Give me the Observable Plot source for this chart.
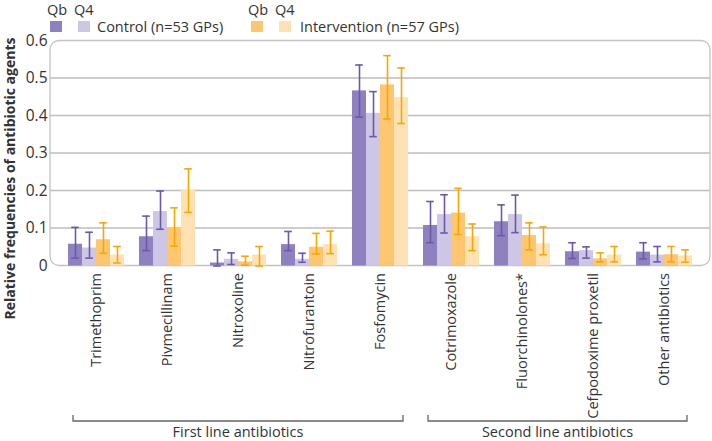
<!DOCTYPE html>
<html><head><meta charset="utf-8">
<script src="https://cdn.jsdelivr.net/npm/d3@7"></script>
<script src="https://cdn.jsdelivr.net/npm/@observablehq/plot@0.6"></script>
<style>
body{margin:0;background:#fff;font-family:"Open Sans",Lato,sans-serif;}
#wrap{position:relative;width:712px;height:441px;}
.lg{position:absolute;font-size:14.5px;color:#333;white-space:nowrap;line-height:14px;}
.sw{position:absolute;width:12px;height:11px;}
</style></head><body><div id="wrap"></div>
<script>
const categories = ["Trimethoprim","Pivmecillinam","Nitroxoline","Nitrofurantoin","Fosfomycin","Cotrimoxazole","Fluorchinolones*","Cefpodoxime proxetil","Other antibiotics"];
const seriesKeys = ["Control Qb","Control Q4","Intervention Qb","Intervention Q4"];
const groupLabels = ["First line antibiotics","Second line antibiotics"];
const groupMembers = [[0,4],[5,8]];
const yTicks = [0,0.1,0.2,0.3,0.4,0.5,0.6];

const controlQb   = [0.058,0.078,0.008,0.057,0.467,0.108,0.118,0.038,0.037];
const controlQbLo = [0.021,0.041,0.000,0.041,0.397,0.062,0.081,0.020,0.019];
const controlQbHi = [0.103,0.133,0.043,0.092,0.536,0.172,0.163,0.062,0.062];
const controlQ4   = [0.048,0.145,0.018,0.018,0.407,0.137,0.137,0.041,0.029];
const controlQ4Lo = [0.021,0.098,0.004,0.010,0.345,0.088,0.089,0.021,0.011];
const controlQ4Hi = [0.090,0.200,0.035,0.034,0.465,0.190,0.189,0.051,0.052];
const interQb     = [0.070,0.101,0.011,0.050,0.483,0.141,0.081,0.019,0.030];
const interQbLo   = [0.034,0.053,0.002,0.032,0.392,0.084,0.043,0.011,0.011];
const interQbHi   = [0.115,0.155,0.026,0.087,0.561,0.207,0.115,0.035,0.052];
const interQ4     = [0.029,0.201,0.029,0.057,0.449,0.078,0.059,0.029,0.027];
const interQ4Lo   = [0.008,0.143,0.000,0.033,0.380,0.041,0.030,0.011,0.010];
const interQ4Hi   = [0.052,0.259,0.052,0.093,0.528,0.112,0.104,0.052,0.043];

const fills = ["#8f80c0","#cdc7e5","#fdc66f","#fee2b4"];
const errColors = ["#6d58a8","#6d58a8","#f6a800","#f6a800"];

const seriesData = [
  [controlQb, controlQbLo, controlQbHi],
  [controlQ4, controlQ4Lo, controlQ4Hi],
  [interQb, interQbLo, interQbHi],
  [interQ4, interQ4Lo, interQ4Hi]
];
const rows = [];
categories.forEach((c, i) => {
  seriesKeys.forEach((s, j) => {
    rows.push({cat: c, series: s, value: seriesData[j][0][i], lo: seriesData[j][1][i], hi: seriesData[j][2][i]});
  });
});

const font = "'Open Sans', Lato, sans-serif";
const textColor = "#333";
const errStroke = d => errColors[seriesKeys.indexOf(d.series)];

const plot = Plot.plot({
  width: 712, height: 441,
  marginTop: 40.5, marginBottom: 175.5, marginLeft: 50, marginRight: 2,
  style: {fontFamily: font, fontSize: "14px", color: textColor, background: "transparent"},
  fx: {domain: categories, paddingInner: 0.21, paddingOuter: 0.23, label: null},
  x: {domain: seriesKeys, padding: 0, axis: null},
  y: {domain: [0, 0.6], axis: null},
  color: {domain: seriesKeys, range: fills},
  marks: [
    Plot.barY(rows, {fx: "cat", x: "series", y: "value", fill: "series"}),
    Plot.ruleX(rows, {fx: "cat", x: "series", y1: "lo", y2: "hi", stroke: errStroke, strokeWidth: 1.6}),
    Plot.tickY(rows, {fx: "cat", x: "series", y: "hi", stroke: errStroke, strokeWidth: 1.6, insetLeft: 3.2, insetRight: 3.2}),
    Plot.tickY(rows, {fx: "cat", x: "series", y: "lo", stroke: errStroke, strokeWidth: 1.6, insetLeft: 3.2, insetRight: 3.2}),
    Plot.axisY({ticks: yTicks, tickSize: 0, tickPadding: 21, tickFormat: d => d === 0 ? "0" : d3.format(".1f")(d), label: null, fontSize: 15.5}),
    Plot.text([{cat: categories[0], t: "Relative frequencies of antibiotic agents"}], {fx: "cat", text: "t", frameAnchor: "left", textAnchor: "middle", rotate: -90, dx: -58, dy: 25, fontWeight: "bold", fontSize: 14, fill: textColor}),
    Plot.axisFx({anchor: "bottom", tickRotate: -90, tickSize: 0, tickPadding: 7, fontSize: 14.5, label: null})
  ]
});

const wrap = document.getElementById("wrap");
wrap.appendChild(plot);

// decorations using the plot's own scales
const svg = d3.select(plot);
const yS = plot.scale("y");
const fxS = plot.scale("fx");
const x0 = 50, x1 = 710;
const yTop = yS.apply(0.6), yBot = yS.apply(0);
const deco = svg.insert("g", ":first-child");
deco.selectAll("line").data(yTicks.filter(t => t > 0 && t < 0.6)).join("line")
  .attr("x1", x0).attr("x2", x1)
  .attr("y1", d => yS.apply(d)).attr("y2", d => yS.apply(d))
  .attr("stroke", "#bdbdbd").attr("stroke-width", 1.3);
deco.append("rect").attr("x", x0).attr("y", yTop).attr("width", x1 - x0).attr("height", yBot - yTop)
  .attr("rx", 9).attr("fill", "none").attr("stroke", "#c3c3c3").attr("stroke-width", 1.3);

const bw = fxS.bandwidth;
const by = 421;
groupMembers.forEach(([a, b], k) => {
  const xa = fxS.apply(categories[a]) + bw / 2 - 23;
  const xb = fxS.apply(categories[b]) + bw / 2 + 23;
  svg.append("path").attr("d", `M${xa},${by - 6}V${by}H${xb}V${by - 6}`)
    .attr("fill", "none").attr("stroke", "#666").attr("stroke-width", 1.3);
  svg.append("text").attr("x", (xa + xb) / 2).attr("y", by + 16).attr("text-anchor", "middle")
    .attr("font-size", 14.5).attr("fill", textColor).attr("font-family", font).text(groupLabels[k]);
});

// legend (HTML)
const legend = [
  {qb: 50, q4: 78, text: "Control (n=53 GPs)", tx: 97, c: [fills[0], fills[1]]},
  {qb: 251, q4: 279, text: "Intervention (n=57 GPs)", tx: 300, c: [fills[2], fills[3]]}
];
legend.forEach(l => {
  const add = (cls, left, top, txt, bg) => {
    const d = document.createElement("div");
    d.className = cls; d.style.left = left + "px"; d.style.top = top + "px";
    if (txt) d.textContent = txt;
    if (bg) d.style.background = bg;
    wrap.appendChild(d);
  };
  add("lg", l.qb - 3, 3, "Qb");
  add("lg", l.q4 - 4, 3, "Q4");
  add("sw", l.qb, 21, null, l.c[0]);
  add("sw", l.q4, 21, null, l.c[1]);
  add("lg", l.tx, 20, l.text);
});
</script></body></html>
